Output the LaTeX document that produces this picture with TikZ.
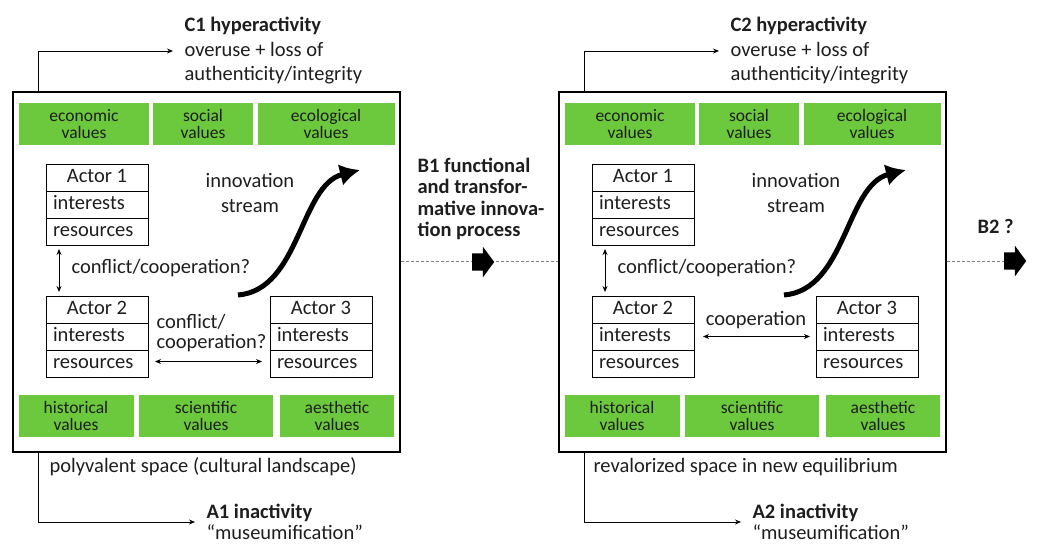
\documentclass[tikz,border=0pt]{standalone}
\usepackage{fontspec}
\setmainfont{Carlito}
\usetikzlibrary{positioning}
\usetikzlibrary{arrows.meta}
\usetikzlibrary{shapes.arrows}
\definecolor{valgreen}{RGB}{108,200,60}
\definecolor{inkgrey}{RGB}{30,30,30}
\newcommand{\diagfont}{\fontsize{20.5}{24.5}\selectfont}
\newcommand{\valuesfont}{\fontsize{17.5}{17.5}\selectfont}
\tikzstyle{space} = [rectangle, draw, line width=2.2pt, minimum width=387pt, minimum height=360pt, inner sep=0pt]
\tikzstyle{value} = [rectangle, fill=valgreen, minimum height=42pt, inner sep=0pt, align=center, font=\valuesfont]
\tikzstyle{actor head} = [rectangle, draw, line width=0.8pt, minimum width=102pt, minimum height=27pt, inner sep=0pt, outer sep=0pt, text height=14pt, text depth=4pt]
\tikzstyle{actor row} = [actor head, text width=88pt, inner xsep=7pt, align=left]
\tikzstyle{link} = [<->, >={Stealth[length=6pt,width=5pt]}, line width=0.8pt]
\tikzstyle{elbow} = [-{Stealth[length=6pt,width=5pt]}, line width=0.8pt]
\tikzstyle{stream} = [line width=5pt, -{Latex[length=20pt,width=22pt]}]
\tikzstyle{passage} = [dash pattern=on 3pt off 2pt, draw=gray, line width=0.8pt]
\tikzstyle{block} = [single arrow, fill=black, minimum height=22pt, inner xsep=0pt, inner ysep=8.5pt, single arrow head extend=6.5pt, single arrow tip angle=107]

\begin{document}
\begin{tikzpicture}[x=1pt, y=-1pt, font=\diagfont, text=inkgrey]
\useasboundingbox (0,0) rectangle (1040,544);
\foreach \p/\dx in {1/0, 2/546}{
  \begin{scope}[xshift=\dx pt]
    % space with its values
    \node[space] (space\p) at (206.5,272) {};
    \node[value, minimum width=130pt] (eco\p) at (84,124) {economic\\values};
    \node[value, minimum width=100pt] (soc\p) at (203,124) {social\\values};
    \node[value, minimum width=137pt] (ecol\p) at (326,124) {ecological\\values};
    \node[value, minimum width=115pt] (hist\p) at (76,416) {historical\\values};
    \node[value, minimum width=134pt] (sci\p) at (206,416) {scientific\\values};
    \node[value, minimum width=114pt] (aes\p) at (337,416) {aesthetic\\values};
    % actors
    \node[actor head] (actA\p) at (97,177.5) {Actor 1};
    \node[actor row, below=0pt of actA\p] (actAint\p) {interests};
    \node[actor row, below=0pt of actAint\p] (actAres\p) {resources};
    \node[actor head] (actB\p) at (97,309.5) {Actor 2};
    \node[actor row, below=0pt of actB\p] (actBint\p) {interests};
    \node[actor row, below=0pt of actBint\p] (actBres\p) {resources};
    \node[actor head] (actC\p) at (321,309.5) {Actor 3};
    \node[actor row, below=0pt of actC\p] (actCint\p) {interests};
    \node[actor row, below=0pt of actCint\p] (actCres\p) {resources};
    \draw[link, shorten <=4pt, shorten >=4pt] ([xshift=-38pt]actAres\p.south) -- ([xshift=-38pt]actB\p.north);
    \node[anchor=west] (confA\p) at (68,268) {conflict/cooperation?};
    % innovation stream
    \node[align=center] (innov\p) at (250,193) {innovation\\stream};
    \coordinate (streamA\p) at (238,295);
    \coordinate (streamB\p) at (360,170);
    \draw[stream] (streamA\p) .. controls (300,290) and (300,185) .. (streamB\p);
    % hyperactivity and inactivity
    \node[anchor=west, align=left] (hyper\p) at (181,51) {\textbf{C\p\ hyperactivity}\\overuse + loss of\\authenticity/integrity};
    \draw[elbow] ([xshift=26pt]space\p.north west) |- ([xshift=-8pt]hyper\p.west);
    \node[anchor=west, align=left, font=\fontsize{20.5}{21}\selectfont] (inact\p) at (203,522) {\textbf{A\p\ inactivity}\\“museumification”};
    \draw[elbow] ([xshift=26pt]space\p.south west) |- ([xshift=-8pt]inact\p.west);
  \end{scope}
}
\draw[link, shorten <=7pt, shorten >=8pt] ([yshift=2pt]actBres1.east) -- ([yshift=2pt]actCres1.west);
\node[anchor=west, align=left, font=\fontsize{20.5}{20}\selectfont] (confB1) at (153,333) {conflict/\\cooperation?};
\draw[link, shorten <=9pt, shorten >=6pt] (actBint2.east) -- (actCint2.west);
\node (coop2) at (756,320) {cooperation};
\node[anchor=west] (caption1) at (46,467) {polyvalent space (cultural landscape)};
\node[anchor=west] (caption2) at (590,467) {revalorized space in new equilibrium};
% transitions
\draw[passage] ([yshift=11pt]space1.east) -- ([yshift=11pt]space2.west);
\node[block] (blockB1) at (480,262) {};
\node[anchor=west, align=left, font=\bfseries\fontsize{20.5}{21.5}\selectfont] (procB1) at (414,199) {B1 functional\\and transfor-\\mative innova-\\tion process};
\node[block] (blockB2) at (1012,261) {};
\draw[passage] ([yshift=11pt]space2.east) -- (blockB2.west);
\node[anchor=west, font=\bfseries\diagfont] (procB2) at (974,226) {B2 ?};
\end{tikzpicture}
\end{document}
